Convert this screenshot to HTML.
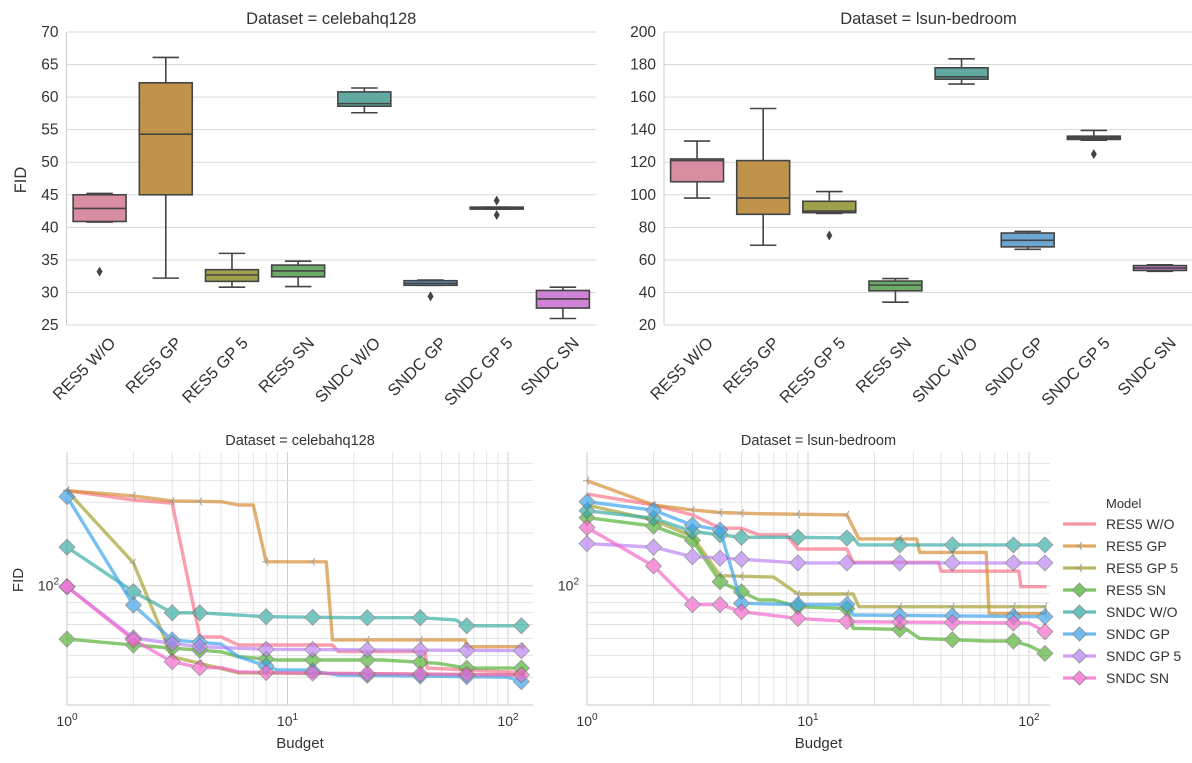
<!DOCTYPE html>
<html><head><meta charset="utf-8"><style>
body{margin:0;background:#fff;}
svg{display:block;font-family:"Liberation Sans","DejaVu Sans",sans-serif;}
</style></head><body>
<svg id="fig" width="1192" height="763" viewBox="0 0 1192 763" xmlns="http://www.w3.org/2000/svg">
<g id="top"></g>
<g id="bottom"></g>
<g id="legend"></g>
</svg>
<script>
const models = ["RES5 W/O","RES5 GP","RES5 GP 5","RES5 SN","SNDC W/O","SNDC GP","SNDC GP 5","SNDC SN"];
const lineColors = ["#f77189","#d58c32","#a4a031","#50b131","#36ada4","#3ba3ec","#bb83f4","#f565cc"];
const boxColors = ["#d98da0","#bf944a","#9fa04b","#6dac68","#62aaa1","#6da6d1","#8f86b8","#d082d6"];
const markerTypes = ["none","tri","tri","diamond","diamond","diamond","diamond","diamond"];

// Box stats [whislo, q1, med, q3, whishi]
const celebaBoxes = [[40.8,40.9,42.9,45.0,45.2],[32.2,45.0,54.3,62.2,66.1],[30.8,31.7,32.7,33.5,36.0],[30.9,32.4,33.3,34.2,34.8],[57.6,58.6,59.0,60.8,61.4],[31.1,31.1,31.4,31.8,31.9],[42.8,42.8,43.0,43.1,43.1],[26.0,27.6,29.0,30.3,30.8]];
const celebaOutliers = [[33.2],[],[],[],[],[29.4],[44.1,41.9],[]];
const lsunBoxes = [[98,108,121,122,133],[69,88,98,121,153],[88.5,89,90,96,102],[34,41,44.5,47,48.5],[168,171,172.5,178,183.5],[66.5,68,72,76.5,77.5],[133.5,134,135,136,139.5],[53,53.5,55,56.5,57]];
const lsunOutliers = [[],[],[75],[],[],[],[125],[]];
const celebaTicks = [25,30,35,40,45,50,55,60,65,70];
const lsunTicks = [20,40,60,80,100,120,140,160,180,200];

// Budget curves: budgets and FID values per series
const celebaBudgets = [
 [1,2,3,4,5,6,16,17,42,43,120],
 [1,2,3,5,6,7,8,15,16,64,65,120],
 [1,2,3,6,120],
 [1,2,3,5,6,9,27,48,65,120],
 [1,2,3,4,8,20,40,58,64,120],
 [1,2,3,5,6,9,12,17,100,120],
 [1,2,3,4,8,120],
 [1,2,3,4,5,6,9,120]];
const celebaValues = [
 [349,309,296,51,51,45.8,45.8,42,42,33.8,31.8],
 [349,326,305,302,289,289,137,137,49,49,44.8,44.8],
 [349,135,39.3,31.8,30.9],
 [49.5,45.8,44,41.9,39.3,37.6,37.6,36,33.8,33.8],
 [166,92.4,70,70,66.5,65.6,65.6,63.7,59,59],
 [323,77.5,49,46.4,39.3,33,33,30.9,30,27.8],
 [98.7,50.3,46.8,44.8,43.3,42.5],
 [98.7,49,36.8,34,34,32.2,31.8,30.9]];
const lsunBudgets = [
 [1,2,3,4,5,6,8,9,15,16,39,40,90,92,120],
 [1,2,3,4,6,15,17,31,32,64,66,120],
 [1,2,3,4,7,9,16,17,120],
 [1,2,3,4,6,7,9,15,16,28,32,64,85,100,120],
 [1,2,3,5,9,16,17,120],
 [1,2,3,4,5,9,15,16,120],
 [1,2,3,5,9,120],
 [1,2,3,4,5,9,16,100,120]];
const lsunValues = [
 [334,289,254,213,213,195,195,162,162,136,136,121,121,98.7,98.7],
 [398,289,271,262,258,254,185,185,155,155,69.5,69.5],
 [289,237,191,114,112,89.6,89.6,75.9,75.9],
 [245,219,182,105.4,82.8,82.8,75.9,74,57.1,56.1,50,48.3,48.3,45.4,40.6],
 [268,243,204,189,189,187,171,171],
 [302,270,222,208,79.3,78,78,68,66.5],
 [174,166,146.6,141.5,135,135],
 [215,129.6,78,78,71,65,62.3,61.1,54]];
const celebaMarkerBudgets = [1,2,3,4,8,13,23,40,65,115];
const lsunMarkerBudgets = [1,2,3,4,5,9,15,26,45,85,118];
const xTickLabels = ["10","10","10"];

const NS="http://www.w3.org/2000/svg";
function el(tag, attrs, parent){const e=document.createElementNS(NS,tag);for(const k in attrs)e.setAttribute(k,attrs[k]);parent.appendChild(e);return e;}

// ---- Box plots ----
function boxPanel(parent, x0, x1, vmin, vmax, ticks, boxes, outliers, title, showYLabel, key){
  const top=32,bot=325;
  const y=v=>top+(vmax-v)/(vmax-vmin)*(bot-top);
  const g=el("g",{},parent);
  
  
  ticks.forEach(t=>{
    const ln=el("line",{x1:x0,x2:x1,y1:y(t),y2:y(t),stroke:"#d9d9d9","stroke-width":1},g);
    
    
    const tx=el("text",{x:x0-8,y:y(t)+5,"text-anchor":"end","font-size":"15.5",fill:"#333"},g);
    tx.textContent=t;
    
    
  });
  const ttl=el("text",{x:(x0+x1)/2,y:24,"text-anchor":"middle","font-size":"16.5",fill:"#333"},g);
  ttl.textContent=title;
  
  
  if(showYLabel){
    const yl=el("text",{x:0,y:0,transform:"translate(26,180) rotate(-90)","text-anchor":"middle","font-size":"16.5",fill:"#333"},g);
    yl.textContent="FID";
    
    
  }
  const ax=el("line",{x1:x0,x2:x0,y1:top,y2:bot,stroke:"#ccc","stroke-width":1},g);
  
  
  const step=(x1-x0)/models.length, bw=step*0.8;
  boxes.forEach((b,i)=>{
    const cx=x0+step*(i+0.5);
    const bg=el("g",{},g);
    
    
    el("line",{x1:cx,x2:cx,y1:y(b[0]),y2:y(b[1]),stroke:"#444","stroke-width":1.6},bg);
    el("line",{x1:cx,x2:cx,y1:y(b[3]),y2:y(b[4]),stroke:"#444","stroke-width":1.6},bg);
    el("line",{x1:cx-bw/4,x2:cx+bw/4,y1:y(b[0]),y2:y(b[0]),stroke:"#444","stroke-width":1.6},bg);
    el("line",{x1:cx-bw/4,x2:cx+bw/4,y1:y(b[4]),y2:y(b[4]),stroke:"#444","stroke-width":1.6},bg);
    el("rect",{x:cx-bw/2,y:y(b[3]),width:bw,height:Math.max(1,y(b[1])-y(b[3])),fill:boxColors[i],stroke:"#444","stroke-width":1.6},bg);
    el("line",{x1:cx-bw/2,x2:cx+bw/2,y1:y(b[2]),y2:y(b[2]),stroke:"#444","stroke-width":1.6},bg);
    outliers[i].forEach(o=>{
      const d=el("path",{d:`M${cx},${y(o)-5}L${cx+3},${y(o)}L${cx},${y(o)+5}L${cx-3},${y(o)}Z`,fill:"#444"},bg);
      
      
    });
    const lb=el("text",{x:0,y:0,transform:`translate(${cx+17},${344}) rotate(-45)`,"text-anchor":"end","font-size":"16.5",fill:"#333"},g);
    lb.textContent=models[i];
    
    
  });
}
const topG=document.getElementById("top");
boxPanel(topG,66.5,596,25,70,celebaTicks,celebaBoxes,celebaOutliers,"Dataset = celebahq128",true,"celebahq128");
boxPanel(topG,664,1193,20,200,lsunTicks,lsunBoxes,lsunOutliers,"Dataset = lsun-bedroom",false,"lsun-bedroom");

// ---- Line panels ----
function linePanel(parent, x0, xR, decade, budgets, values, mBudgets, title, showYLabel, key){
  const top=452,bot=705,yRef=585.7,yDec=175;
  const xs=b=>x0+decade*Math.log10(b);
  const ys=v=>yRef-yDec*(Math.log10(v)-2);
  const g=el("g",{},parent);
  
  
  for(let d=0;d<3;d++)for(let m=1;m<10;m++){
    const b=m*Math.pow(10,d),x=xs(b); if(x>xR) continue;
    const ln=el("line",{x1:x,x2:x,y1:top,y2:bot,stroke:m===1?"#d0d0d0":"#e2e2e2","stroke-width":1},g);
    
    
  }
  [20,30,40,50,60,70,80,90,100,200,300,400,500].forEach(v=>{
    const yy=ys(v); if(yy<top||yy>bot) return;
    const ln=el("line",{x1:x0,x2:xR,y1:yy,y2:yy,stroke:v===100?"#d0d0d0":"#e2e2e2","stroke-width":1},g);
    
    
  });
  el("line",{x1:x0,x2:x0,y1:top,y2:bot,stroke:"#c8c8c8"},g);
  el("line",{x1:x0,x2:xR,y1:bot,y2:bot,stroke:"#c8c8c8"},g);
  [0,1,2].forEach(d=>{
    const t=el("text",{x:xs(Math.pow(10,d)),y:bot+21,"text-anchor":"middle","font-size":"14",fill:"#333"},g);
    
    
    t.textContent=xTickLabels[d];
    const s=el("tspan",{dy:"-6","font-size":"10"},t); s.textContent=String(d);
  });
  const yt=el("text",{x:x0-8,y:ys(100)+5,"text-anchor":"end","font-size":"14",fill:"#333"},g);
  
  
  yt.textContent="10"; el("tspan",{dy:"-6","font-size":"10"},yt).textContent="2";
  const ttl=el("text",{x:(x0+xR)/2,y:445,"text-anchor":"middle","font-size":"14.5",fill:"#333"},g);
  ttl.textContent=title;
  
  
  const xl=el("text",{x:(x0+xR)/2,y:748,"text-anchor":"middle","font-size":"15",fill:"#333"},g);
  xl.textContent="Budget";
  
  
  if(showYLabel){
    const yl=el("text",{x:0,y:0,transform:"translate(23,580) rotate(-90)","text-anchor":"middle","font-size":"15",fill:"#333"},g);
    yl.textContent="FID";
    
    
  }
  function interp(bs,vs,b){
    for(let i=0;i<bs.length-1;i++) if(b>=bs[i]&&b<=bs[i+1]){
      const t=(Math.log10(b)-Math.log10(bs[i]))/(Math.log10(bs[i+1])-Math.log10(bs[i])||1);
      return Math.pow(10,Math.log10(vs[i])+t*(Math.log10(vs[i+1])-Math.log10(vs[i])));
    }
    return vs[vs.length-1];
  }
  budgets.forEach((bs,i)=>{
    const sg=el("g",{opacity:0.68},g);
    
    
    const pts=bs.map((b,j)=>xs(b).toFixed(1)+","+ys(values[i][j]).toFixed(1)).join(" ");
    el("polyline",{points:pts,fill:"none",stroke:lineColors[i],"stroke-width":3.4,"stroke-linejoin":"round"},sg);
    mBudgets.forEach(b=>{
      if(b>bs[bs.length-1]) return;
      const cx=xs(b),cy=ys(interp(bs,values[i],b));
      if(markerTypes[i]==="diamond"){
        const m=el("path",{d:`M${cx},${cy-8}L${cx+8},${cy}L${cx},${cy+8}L${cx-8},${cy}Z`,fill:lineColors[i],stroke:"#666","stroke-width":0.8},sg);
        
        
      } else if(markerTypes[i]==="tri"){
        const m=el("path",{d:`M${cx},${cy}L${cx-4},${cy}M${cx},${cy}L${cx+2},${cy-4}M${cx},${cy}L${cx+2},${cy+4}`,stroke:"#777","stroke-width":1},sg);
        
        
      }
    });
  });
}
const botG=document.getElementById("bottom");
linePanel(botG,67,533,220.5,celebaBudgets,celebaValues,celebaMarkerBudgets,"Dataset = celebahq128",true,"celebahq128");
linePanel(botG,587,1050,221,lsunBudgets,lsunValues,lsunMarkerBudgets,"Dataset = lsun-bedroom",false,"lsun-bedroom");

// ---- Legend ----
const lg=document.getElementById("legend");
const lt=el("text",{x:1106,y:508,"font-size":"13",fill:"#333"},lg);
lt.textContent="Model";


models.forEach((m,i)=>{
  const yy=524+i*22;
  const eg=el("g",{opacity:0.75},lg);
  
  
  el("line",{x1:1063,x2:1096,y1:yy,y2:yy,stroke:lineColors[i],"stroke-width":3.2},eg);
  const cx=1079.5;
  if(markerTypes[i]==="diamond") el("path",{d:`M${cx},${yy-7}L${cx+7},${yy}L${cx},${yy+7}L${cx-7},${yy}Z`,fill:lineColors[i],stroke:"#666","stroke-width":0.8},eg);
  else if(markerTypes[i]==="tri") el("path",{d:`M${cx},${yy}L${cx-4},${yy}M${cx},${yy}L${cx+2},${yy-4}M${cx},${yy}L${cx+2},${yy+4}`,stroke:"#777","stroke-width":1},eg);
  const t=el("text",{x:1106,y:yy+5,"font-size":"14",fill:"#333"},lg);
  t.textContent=m;
  
  
});
</script>
</body></html>
